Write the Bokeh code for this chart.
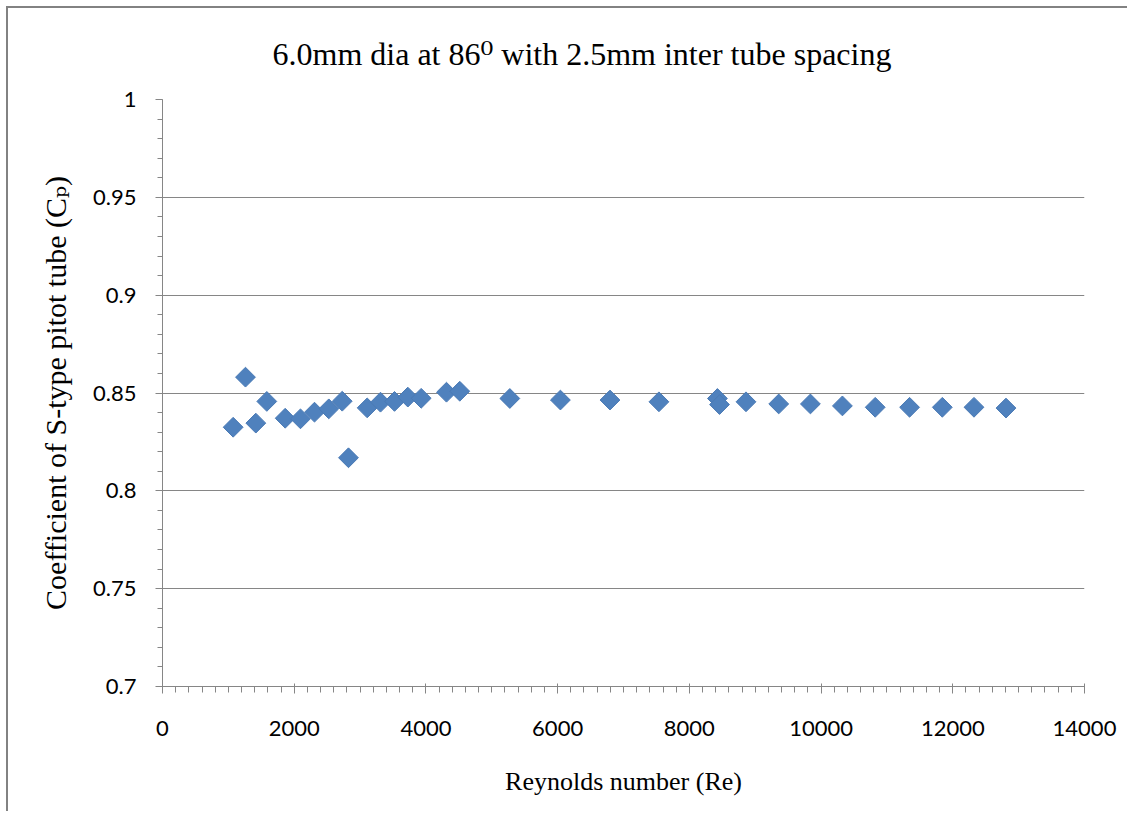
from bokeh.plotting import figure
from bokeh.models import Range1d, FixedTicker, NumeralTickFormatter, Title
from bokeh.embed import file_html
from bokeh.resources import INLINE

# Data
reynolds = [1073, 1260, 1417, 1584, 1863, 2095, 2308, 2525, 2729, 2824,
            3108, 3310, 3523, 3725, 3928, 4312, 4514, 5274, 6042, 6795,
            7538, 8426, 8458, 8860, 9357, 9838, 10324, 10822, 11344, 11841,
            12322, 12808]
cp = [0.8325, 0.8581, 0.8346, 0.8457, 0.8371, 0.8368, 0.8402, 0.8419, 0.8458, 0.8169,
      0.8424, 0.8453, 0.8457, 0.8479, 0.8473, 0.8504, 0.8509, 0.8472, 0.8464, 0.8464,
      0.8455, 0.8472, 0.8441, 0.8455, 0.8444, 0.8444, 0.8434, 0.8427, 0.8427, 0.8427,
      0.8427, 0.8423]

x_major = [0, 2000, 4000, 6000, 8000, 10000, 12000, 14000]
x_minor = list(range(0, 14001, 200))
y_major = [0.7, 0.75, 0.8, 0.85, 0.9, 0.95, 1.0]
y_minor = [round(0.7 + 0.01 * i, 2) for i in range(31)]

title_text = "6.0mm dia at 86\u2070 with 2.5mm inter tube spacing"
x_label = "Reynolds number (Re)"
y_label = "Coefficient of S-type pitot tube (C\u209a)"

GRAY = "#868686"
SERIF = "'Liberation Serif', 'DejaVu Serif'"
SANS = "Lato"

p = figure(width=1121, height=805, output_backend="svg", toolbar_location=None,
           x_range=Range1d(0, 14000), y_range=Range1d(0.7, 1.0),
           min_border_left=154, min_border_right=45, min_border_top=91, min_border_bottom=127,
           title=None)
p.styles = {"border-left": "2px solid #828282", "border-top": "2px solid #828282",
            "margin-left": "6px", "margin-top": "6px"}
p.outline_line_color = None
p.background_fill_color = "white"
p.border_fill_color = "white"

t = Title(text=title_text, align="left", offset=110, standoff=52, vertical_align="top",
          text_font=SERIF, text_font_size="32px", text_font_style="normal",
          text_color="black")
p.add_layout(t, "above")

p.scatter(reynolds, cp, marker="square", size=14, angle=0.785398,
          fill_color="#4F81BD", line_color="#4A7AB5", line_width=1)

xa = p.xaxis[0]
xa.ticker = FixedTicker(ticks=x_major, minor_ticks=x_minor)
xa.formatter = NumeralTickFormatter(format="0")
xa.axis_line_color = GRAY
xa.major_tick_line_color = GRAY
xa.minor_tick_line_color = GRAY
xa.major_tick_in = 3
xa.major_tick_out = 7
xa.minor_tick_in = 0
xa.minor_tick_out = 6
xa.major_label_text_font = SANS
xa.major_label_text_font_size = "22px"
xa.major_label_text_color = "black"
xa.major_label_standoff = 27
xa.axis_label = x_label
xa.axis_label_text_font = SERIF
xa.axis_label_text_font_size = "26px"
xa.axis_label_text_font_style = "normal"
xa.axis_label_text_color = "black"
xa.axis_label_standoff = 28

ya = p.yaxis[0]
ya.ticker = FixedTicker(ticks=y_major, minor_ticks=y_minor)
ya.formatter = NumeralTickFormatter(format="0.[00]")
ya.axis_line_color = GRAY
ya.major_tick_line_color = GRAY
ya.minor_tick_line_color = GRAY
ya.major_tick_in = 0
ya.major_tick_out = 7
ya.minor_tick_in = 0
ya.minor_tick_out = 5
ya.major_label_text_font = SANS
ya.major_label_text_font_size = "22px"
ya.major_label_text_color = "black"
ya.major_label_standoff = 19
ya.axis_label = y_label
ya.axis_label_text_font = SERIF
ya.axis_label_text_font_size = "30px"
ya.axis_label_text_font_style = "normal"
ya.axis_label_text_color = "black"
ya.axis_label_standoff = 18

p.xgrid.grid_line_color = None
p.ygrid.ticker = FixedTicker(ticks=y_major)
p.ygrid.grid_line_color = GRAY
p.ygrid.grid_line_width = 1

open("out.html", "w").write(file_html(p, INLINE))
